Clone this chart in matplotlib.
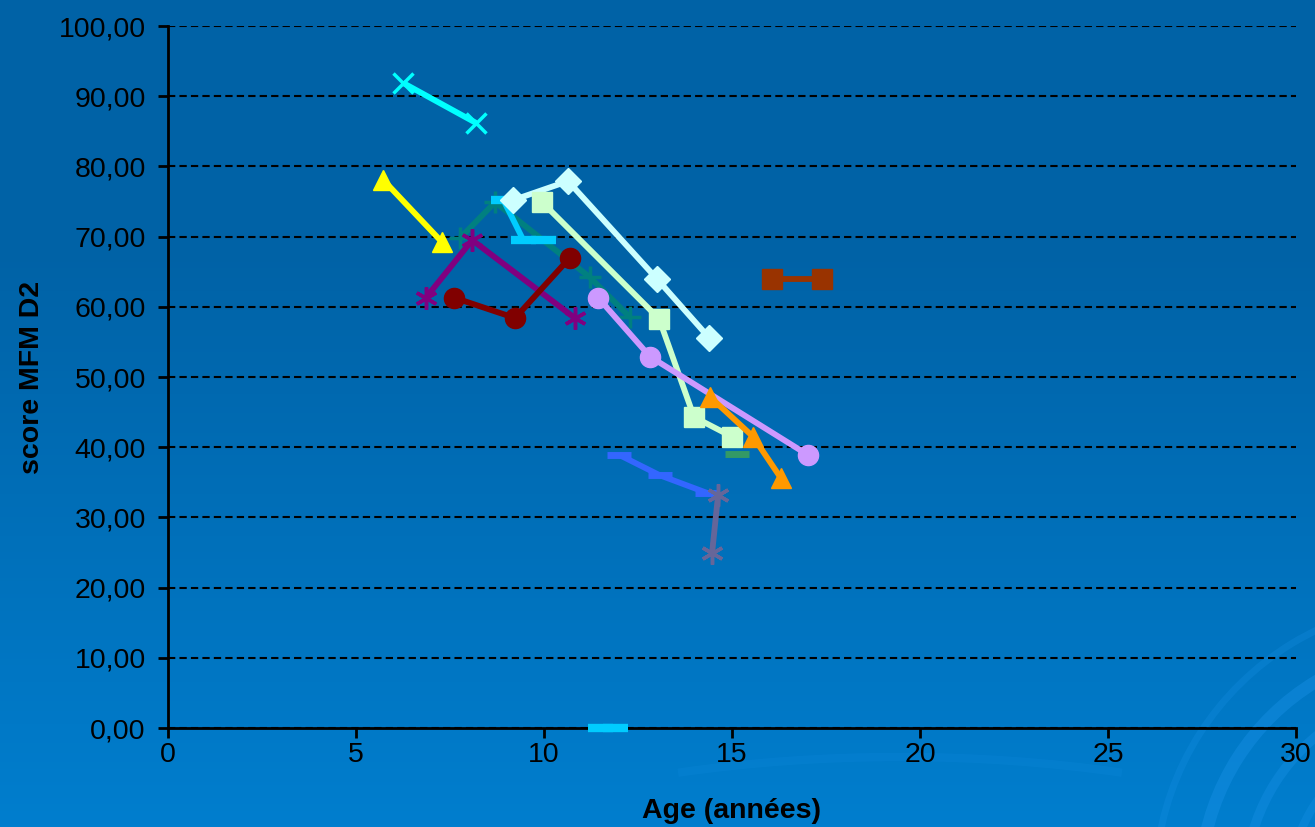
import matplotlib
matplotlib.use("Agg")
import matplotlib.pyplot as plt
import numpy as np
from matplotlib.patches import Arc
from matplotlib.ticker import FuncFormatter, MultipleLocator

plt.rcParams['font.family'] = ['Liberation Sans', 'DejaVu Sans']

# patients: age (années) vs score MFM D2
cyanX_age = [6.25, 8.19]
cyanX_score = [91.9, 86.2]
yellow_age = [5.72, 7.29]
yellow_score = [78.1, 69.2]
teal_age = [7.77, 8.70, 11.22, 12.29]
teal_score = [69.8, 74.9, 64.2, 58.5]
sky_age = [8.92, 9.45, 9.98]
sky_score = [75.2, 69.5, 69.5]
lcyan_age = [9.18, 10.64, 13.00, 14.39]
lcyan_score = [75.2, 77.9, 64.0, 55.6]
lgreen_age = [9.95, 13.06, 13.99, 15.00]
lgreen_score = [74.9, 58.3, 44.3, 41.5]
purple_age = [6.86, 8.09, 10.82]
purple_score = [61.3, 69.5, 58.4]
dred_age = [7.61, 9.23, 10.69]
dred_score = [61.3, 58.4, 67.0]
lav_age = [11.44, 12.82, 17.02]
lav_score = [61.3, 52.9, 38.9]
orange_age = [14.41, 15.56, 16.30]
orange_score = [47.2, 41.5, 35.6]
dgreen_age = [15.13]
dgreen_score = [39.0]
rblue_age = [12.00, 13.08, 14.33]
rblue_score = [38.9, 36.0, 33.5]
slate_age = [14.63, 14.47]
slate_score = [33.2, 24.9]
brown_age = [16.06, 17.39]
brown_score = [64.0, 64.0]
sky0_age = [11.49, 11.89]
sky0_score = [0.0, 0.0]

fig = plt.figure(figsize=(13.15, 8.27), dpi=100)

# background gradient + swirl
bg = fig.add_axes([0, 0, 1, 1])
bg.set_xlim(0, 1315)
bg.set_ylim(0, 827)
bg.axis('off')
top = np.array([0, 98, 166]) / 255.0
bot = np.array([0, 126, 206]) / 255.0
t = np.linspace(0, 1, 256)[:, None]
t = np.clip((t - 0.3) / 0.7, 0, 1)
grad = top + (bot - top) * t
grad = np.repeat(grad[:, None, :], 2, axis=1)
bg.imshow(grad, extent=[0, 1315, 0, 827], origin='upper', aspect='auto', zorder=0)
for r, w, a in [(240, 9, 0.4), (195, 7, 0.35), (150, 6, 0.3), (285, 5, 0.25)]:
    bg.add_patch(Arc((1440, -60), 2 * r, 2 * r, theta1=95, theta2=200,
                     color='#1a92e8', lw=w, alpha=a, zorder=1))
bg.add_patch(Arc((900, -330), 1600, 800, theta1=60, theta2=120,
                 color='#1a92e8', lw=6, alpha=0.15, zorder=1))

ax = fig.add_axes([168 / 1315, 1 - 728 / 827, (1296 - 168) / 1315, (728 - 26) / 827])
ax.set_facecolor('none')

ms = 14.5
lw = 4.2
series = [
    (cyanX_age, cyanX_score, '#00FFFF', 'x', 15, 2.5),
    (yellow_age, yellow_score, '#FFFF00', '^', ms, 1),
    (teal_age, teal_score, '#008080', '+', 16, 2.5),
    (sky_age, sky_score, '#00CCFF', '_', 18, 6),
    (lcyan_age, lcyan_score, '#CCFFFF', 'D', 13, 1),
    (lgreen_age, lgreen_score, '#CCFFCC', 's', ms, 1),
    (purple_age, purple_score, '#800080', (6, 2, 0), 16, 2.5),
    (dred_age, dred_score, '#800000', 'o', ms, 1),
    (lav_age, lav_score, '#CC99FF', 'o', ms, 1),
    (orange_age, orange_score, '#FF9900', '^', ms, 1),
    (dgreen_age, dgreen_score, '#339966', '_', 17, 5),
    (rblue_age, rblue_score, '#3366FF', '_', 17, 5),
    (slate_age, slate_score, '#666699', (6, 2, 0), 16, 2.5),
    (brown_age, brown_score, '#993300', 's', ms, 1),
    (sky0_age, sky0_score, '#00CCFF', '_', 18, 6),
]
for i, (xs, ys, c, m, s, mew) in enumerate(series):
    ax.plot(xs, ys, color=c, lw=lw, marker=m, ms=s, mew=mew, mec=c, mfc=c,
            solid_capstyle='butt', zorder=3 + i, clip_on=False)

ax.set_xlim(0, 30)
ax.set_ylim(0, 100)
ax.xaxis.set_major_locator(MultipleLocator(5))
ax.yaxis.set_major_locator(MultipleLocator(10))
ax.yaxis.set_major_formatter(FuncFormatter(lambda v, p: f"{v:.2f}".replace('.', ',')))
ax.grid(axis='y', color='black', linestyle=(0, (3.5, 2)), lw=1.5, zorder=1)
for side in ['top', 'right']:
    ax.spines[side].set_visible(False)
for side in ['left', 'bottom']:
    ax.spines[side].set_color('black')
    ax.spines[side].set_linewidth(2)
ax.tick_params(axis='both', direction='out', length=7, width=2, color='black',
               labelsize=20.5, labelcolor='black')
ax.tick_params(axis='y', pad=9)
ax.tick_params(axis='x', pad=3)
ax.set_xlabel('Age (années)', fontsize=20.5, fontweight='bold', labelpad=22)
ax.set_ylabel('score MFM D2', fontsize=20.5, fontweight='bold', labelpad=10)

fig.savefig('out.png', dpi=100)
